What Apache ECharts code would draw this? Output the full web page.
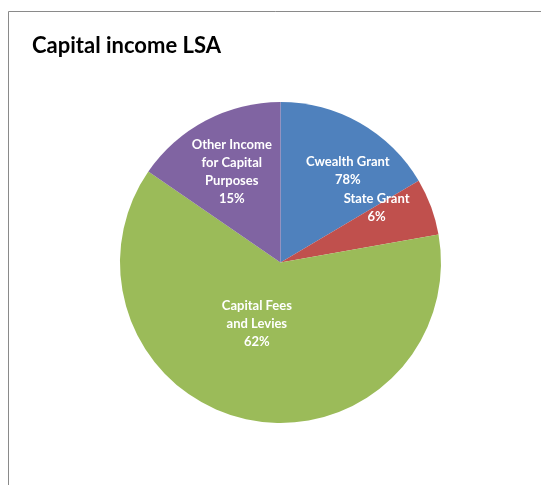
<!DOCTYPE html>
<html><head><meta charset="utf-8">
<script src="https://cdn.jsdelivr.net/npm/echarts@6/dist/echarts.min.js"></script>
<style>html,body{margin:0;padding:0;background:#fff;}#c{width:541px;height:485px;}</style>
</head><body><div id="c"></div>
<script>
const categories = ['Cwealth Grant', 'State Grant', 'Capital Fees\nand Levies', 'Other Income\nfor Capital\nPurposes'];
const values = [16.5, 5.7, 62.4, 15.4];
const labelPercents = ['78%', '6%', '62%', '15%'];
const colors = ['#4F81BD', '#C0504D', '#9BBB59', '#8064A2'];
const labelShift = [[26, -19], [18, -26], [-6, -20], [-10, -17]];

const chart = echarts.init(document.getElementById('c'), null, {renderer: 'canvas'});
chart.setOption({
  animation: false,
  backgroundColor: '#fff',
  graphic: [{
    type: 'rect', shape: {x: 8.5, y: 11.5, width: 600, height: 600},
    style: {fill: 'none', stroke: '#8a8a8a', lineWidth: 1}, silent: true, z: -1
  }],
  title: {
    text: 'Capital income LSA', left: 27, top: 30,
    textStyle: {fontFamily: 'Lato', fontWeight: 'bold', fontSize: 22, color: '#000'}
  },
  series: [{
    type: 'pie',
    center: [280.5, 262.5],
    radius: 160.5,
    startAngle: 90,
    clockwise: true,
    silent: true,
    itemStyle: {borderWidth: 0},
    data: categories.map((c, i) => ({name: c, value: values[i], itemStyle: {color: colors[i]}})),
    label: {
      show: true, position: 'inside',
      formatter: p => p.name + '\n' + labelPercents[p.dataIndex],
      color: '#fff', fontFamily: 'Lato', fontWeight: 'bold', fontSize: 13, lineHeight: 18, align: 'center'
    },
    labelLine: {show: false},
    labelLayout: p => ({dx: labelShift[p.dataIndex][0], dy: labelShift[p.dataIndex][1]})
  }]
});
</script></body></html>
